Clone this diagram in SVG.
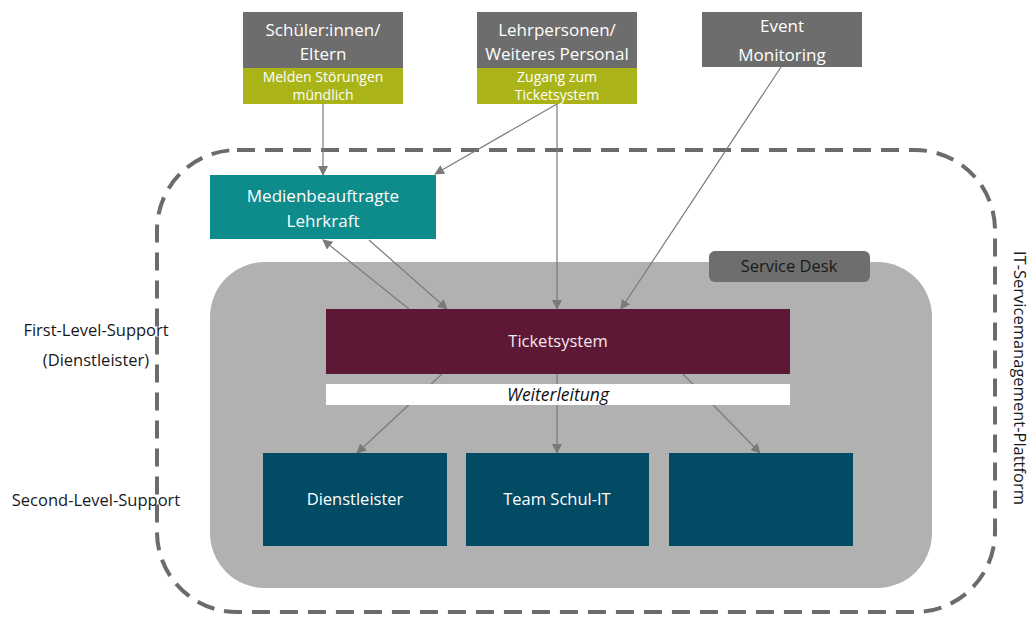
<svg xmlns="http://www.w3.org/2000/svg" width="1033" height="620" viewBox="0 0 1033 620">
<style>
text{font-family:"Open Sans","Liberation Sans",sans-serif;}
.hdr{fill:#6d6d6d;}
.grn{fill:#aab418;}
.wt{fill:#ffffff;text-anchor:middle;}
.lbl{fill:#1a1a1a;text-anchor:middle;font-size:16.5px;}
.con{stroke:#7a7a7a;stroke-width:1.2;fill:none;marker-end:url(#ah);}
.blue{fill:#024b64;}
</style>
<defs>
<marker id="ah" viewBox="0 0 10 10" refX="9" refY="5" markerWidth="10" markerHeight="10" markerUnits="userSpaceOnUse" orient="auto">
<path d="M0,0 L10,5 L0,10 z" fill="#7a7a7a"/>
</marker>
</defs>
<rect width="1033" height="620" fill="#ffffff"/>
<g id="platform">
<rect x="157" y="150" width="838" height="462" rx="80" ry="80" fill="none" stroke="#6b6b6b" stroke-width="4" stroke-dasharray="18,10"/>
<text x="1018" y="378" transform="rotate(90 1018 378)" class="lbl" font-size="17.5" dominant-baseline="middle">IT-Servicemanagement-Plattform</text>
</g>
<g id="servicedesk-area">
<rect x="210" y="262" width="722" height="326" rx="55" ry="55" fill="#b1b1b1"/>
</g>
<g id="servicedesk-label">
<rect x="709" y="251" width="161" height="31" rx="6" ry="6" fill="#6e6e6e"/>
<text x="789" y="272" class="lbl" font-size="16.5">Service Desk</text>
</g>
<g id="level-labels">
<text x="96" y="336" class="lbl">First-Level-Support</text>
<text x="96" y="366" class="lbl">(Dienstleister)</text>
<text x="96" y="506" class="lbl" font-size="17">Second-Level-Support</text>
</g>
<g id="connectors">
<line x1="323" y1="104" x2="323" y2="175" class="con"/>
<line x1="557" y1="104" x2="435" y2="174" class="con"/>
<line x1="557" y1="104" x2="557" y2="309" class="con"/>
<line x1="781" y1="67" x2="621" y2="309" class="con"/>
<line x1="409" y1="309" x2="323" y2="240" class="con"/>
<line x1="369" y1="240" x2="447" y2="309" class="con"/>
<line x1="442" y1="374" x2="357" y2="453" class="con"/>
<line x1="557" y1="374" x2="557" y2="453" class="con"/>
<line x1="683" y1="374" x2="760" y2="453" class="con"/>
</g>
<g id="schueler">
<rect x="243" y="12" width="160" height="56" class="hdr"/>
<rect x="243" y="68" width="160" height="36" class="grn"/>
<text x="323" y="36" class="wt" font-size="17">Schüler:innen/</text>
<text x="323" y="60" class="wt" font-size="17">Eltern</text>
<text x="323" y="82" class="wt" font-size="14">Melden Störungen</text>
<text x="323" y="100" class="wt" font-size="14">mündlich</text>
</g>
<g id="lehrpersonen">
<rect x="477" y="12" width="160" height="56" class="hdr"/>
<rect x="477" y="68" width="160" height="36" class="grn"/>
<text x="557" y="36" class="wt" font-size="17">Lehrpersonen/</text>
<text x="557" y="60" class="wt" font-size="17">Weiteres Personal</text>
<text x="557" y="82" class="wt" font-size="14">Zugang zum</text>
<text x="557" y="100" class="wt" font-size="14">Ticketsystem</text>
</g>
<g id="event">
<rect x="702" y="12" width="160" height="55" class="hdr"/>
<text x="782" y="32" class="wt" font-size="17">Event</text>
<text x="782" y="61" class="wt" font-size="17">Monitoring</text>
</g>
<g id="medien">
<rect x="210" y="175" width="226" height="64" fill="#0e8b8b"/>
<text x="323" y="202" class="wt" font-size="17">Medienbeauftragte</text>
<text x="323" y="227" class="wt" font-size="17">Lehrkraft</text>
</g>
<g id="ticketsystem">
<rect x="326" y="309" width="464" height="65" fill="#5d1835"/>
<text x="558" y="347" font-size="16.5" fill="#f6e6ef" text-anchor="middle">Ticketsystem</text>
</g>
<g id="weiterleitung">
<rect x="326" y="384" width="464" height="21" fill="#ffffff"/>
<text x="558" y="401" font-size="17.5" font-style="italic" fill="#111111" text-anchor="middle">Weiterleitung</text>
</g>
<g id="dienstleister">
<rect x="263" y="453" width="184" height="93" class="blue"/>
<text x="355" y="505" class="wt" font-size="16.5">Dienstleister</text>
</g>
<g id="team-schul-it">
<rect x="466" y="453" width="183" height="93" class="blue"/>
<text x="557" y="505" class="wt" font-size="16.5">Team Schul-IT</text>
</g>
<g id="third">
<rect x="669" y="453" width="184" height="93" class="blue"/>
</g>
</svg>
